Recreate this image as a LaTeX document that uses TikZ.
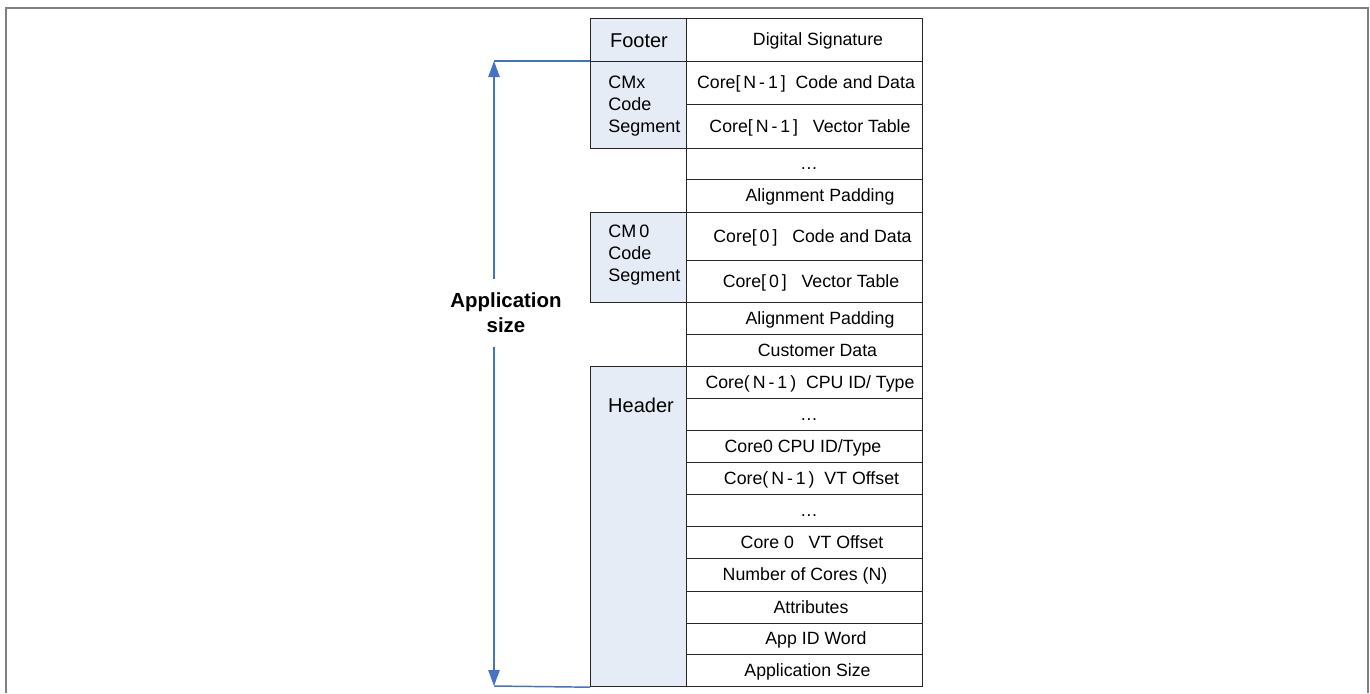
\documentclass[tikz,border=0pt]{standalone}
\usepackage{fontspec}
\setmainfont{Liberation Sans}
\usetikzlibrary{arrows.meta,calc}

\definecolor{segfill}{RGB}{230,236,246}
\definecolor{sizeblue}{RGB}{68,114,196}
\definecolor{framegray}{RGB}{128,128,128}

\tikzset{
  cell/.style={draw=black!85, line width=0.9pt, inner sep=0pt, anchor=north west},
  seg/.style={cell, fill=segfill},
  celltext/.style={font=\fontsize{13.3}{16}\selectfont, text height=9.5pt, text depth=0pt, inner sep=0pt},
  segtext/.style={font=\fontsize{13.5}{16.5}\selectfont, align=left, anchor=west, inner sep=0pt},
  bigtext/.style={font=\fontsize{15}{18}\selectfont, text height=10.7pt, text depth=0pt, inner sep=0pt},
  sizetext/.style={font=\bfseries\fontsize{15.3}{18.75}\selectfont, align=center, inner xsep=2pt, inner ysep=10pt},
  sizeline/.style={draw=sizeblue, line width=1.1pt},
  sizearrow/.style={sizeline, -{Triangle[length=12pt,width=8.5pt]}},
}

% one memory row in the right-hand column: name, top, bottom, text centre x, text
\newcommand\memrow[5]{%
  \node[cell, minimum width=177pt, minimum height={(#3-#2)*0.75pt}] (#1) at (686,#2) {};
  \node[celltext] (#1t) at (#4,{(#2+#3)/2}) {#5};
}

\begin{document}
\begin{tikzpicture}[x=0.75pt, y=-0.75pt]
  \useasboundingbox (0,0) rectangle (1370,693);

  % outer frame (open at the bottom)
  \draw[framegray, line width=1.5pt] (6,693) -- (6,8) -- (1368,8) -- (1368,693);

  % right-hand column of the image layout
  \memrow{r1}{18}{61}{818}{Digital Signature}
  \memrow{r2}{61}{104}{806}{Core[\,N\,-\,1\,]\ \ Code and Data}
  \memrow{r3}{104}{148}{810}{Core[\,N\,-\,1\,]\ \ \ Vector Table}
  \memrow{r4}{148}{179}{809}{…}
  \memrow{r5}{179}{212}{820}{Alignment Padding}
  \memrow{r6}{212}{260}{812.5}{Core[\,0\,]\ \ \ Code and Data}
  \memrow{r7}{260}{302}{811}{Core[\,0\,]\ \ \ Vector Table}
  \memrow{r8}{302}{334}{820}{Alignment Padding}
  \memrow{r9}{334}{366}{817.5}{Customer Data}
  \memrow{r10}{366}{398}{810}{Core(\,N\,-\,1\,)\ \ CPU ID/ Type}
  \memrow{r11}{398}{430}{809}{…}
  \memrow{r12}{430}{462}{803}{Core0 CPU ID/Type}
  \memrow{r13}{462}{494}{811.5}{Core(\,N\,-\,1\,)\ \ VT Offset}
  \memrow{r14}{494}{526}{809}{…}
  \memrow{r15}{526}{558}{812}{Core 0\ \ \ VT Offset}
  \memrow{r16}{558}{591}{805}{Number of Cores (N)}
  \memrow{r17}{591}{623}{811}{Attributes}
  \memrow{r18}{623}{654}{816}{App ID Word}
  \memrow{r19}{654}{686}{807.5}{Application Size}

  % left-hand segment boxes
  \node[seg, minimum width=72pt, minimum height={43*0.75pt}] (footer) at (590,18) {};
  \node[bigtext] (footert) at (639,40) {Footer};

  \node[seg, minimum width=72pt, minimum height={87*0.75pt}] (cmx) at (590,61) {};
  \node[segtext] (cmxt) at (608,106) {CMx\\Code\\Segment};

  \node[seg, minimum width=72pt, minimum height={90*0.75pt}] (cm0) at (590,212) {};
  \node[segtext] (cm0t) at (608,255) {CM\,0\\Code\\Segment};

  \node[seg, minimum width=72pt, minimum height={320*0.75pt}] (header) at (590,366) {};
  \node[bigtext] (headert) at (641,405) {Header};

  % application size dimension
  \node[sizetext] (appsize) at (506,313) {Application\\size};
  \coordinate (topc) at (494,61);
  \coordinate (botc) at (494,686);
  \draw[sizeline] (cmx.north west) -- (topc);
  \draw[sizeline] (header.south west) -- (botc);
  \draw[sizearrow] (appsize.north -| topc) -- (topc);
  \draw[sizearrow] (appsize.south -| botc) -- (botc);
\end{tikzpicture}
\end{document}
